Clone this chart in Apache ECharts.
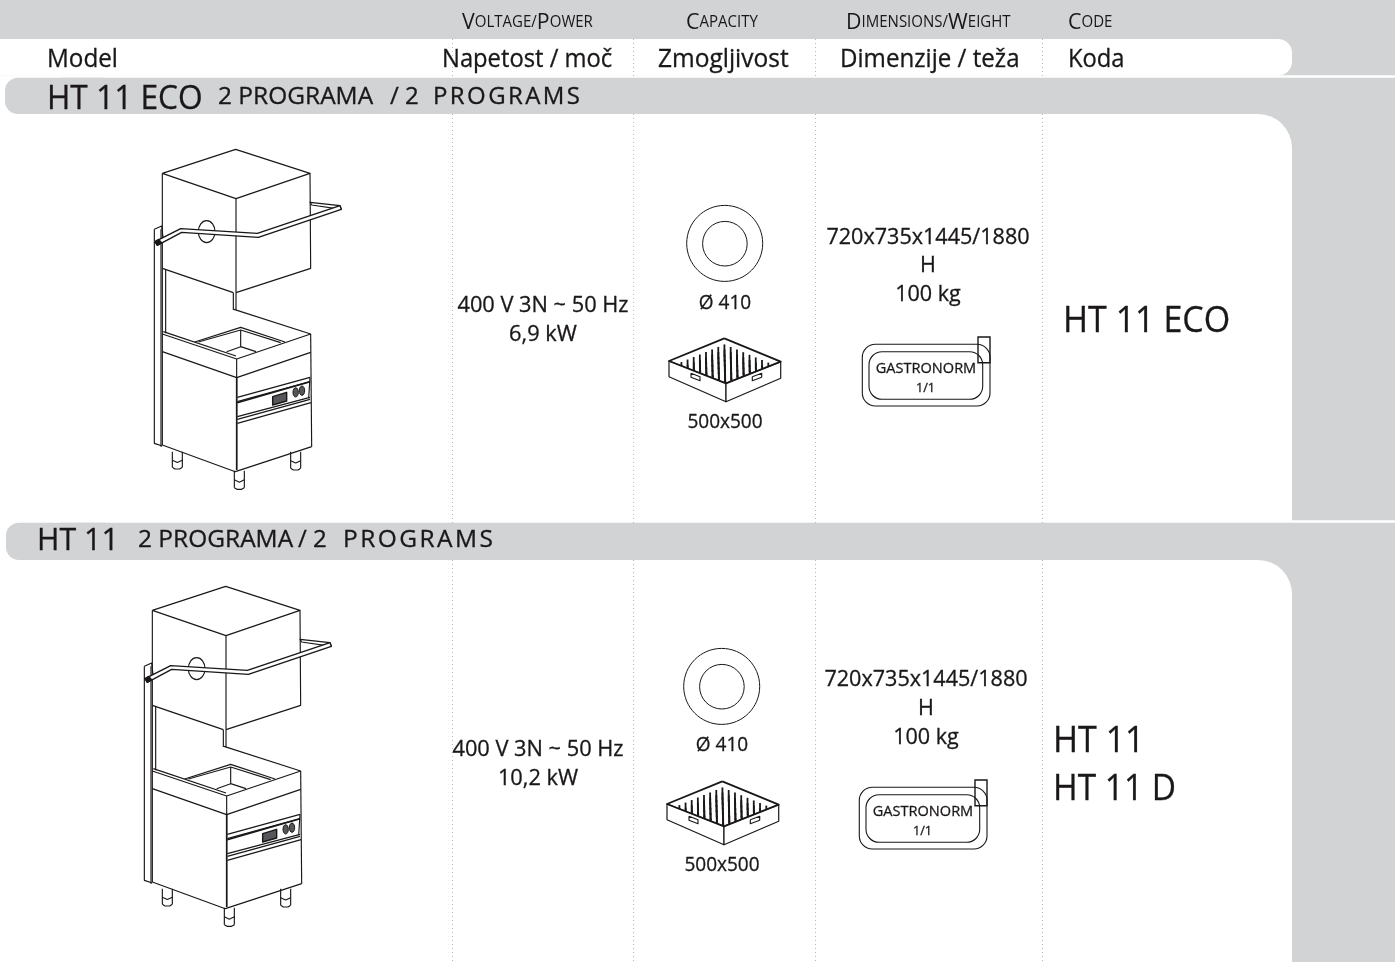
<!DOCTYPE html>
<html lang="en">
<head>
    <meta charset="UTF-8">
    <title>HT 11</title>
    <style>
        html, body { margin: 0; padding: 0; background: #fff; }
        #main { width: 1395px; height: 962px; }
    </style>
    <script src="https://cdn.jsdelivr.net/npm/echarts@6/dist/echarts.min.js"></script>
</head>
<body>
<div id="main"></div>
<script>
    // table content
    const headersEn = ['Voltage/Power', 'Capacity', 'Dimensions/Weight', 'Code'];
    const headersSl = ['Model', 'Napetost / moč', 'Zmogljivost', 'Dimenzije / teža', 'Koda'];
    const modelTitles = ['HT 11 ECO', 'HT 11'];
    const programSl = ['2 PROGRAMA', '2 PROGRAMA'];
    const programEn = ['/ 2', '/ 2'];
    const programWord = 'P\u200AR\u200AO\u200AG\u200AR\u200AA\u200AM\u200AS';
    const voltages = ['400 V 3N ~ 50 Hz', '400 V 3N ~ 50 Hz'];
    const powers = ['6,9 kW', '10,2 kW'];
    const plateSizes = ['Ø 410', 'Ø 410'];
    const rackSizes = ['500x500', '500x500'];
    const dimensions = ['720x735x1445/1880', '720x735x1445/1880'];
    const heights = ['H', 'H'];
    const weights = ['100 kg', '100 kg'];
    const traySizes = ['1/1', '1/1'];
    const trayName = 'GASTRONORM';
    const codes = [['HT 11 ECO'], ['HT 11', 'HT 11 D']];

    const INK = '#1a1718';
    const GREY = '#d1d3d4';
    const FONT = '"Open Sans", sans-serif';
    const els = [];

    function rect(x, y, w, h, fill, r) {
        els.push({type: 'rect', silent: true, shape: {x: x, y: y, width: w, height: h, r: r || 0}, style: {fill: fill}});
    }

    function text(str, x, y, size, align, sx) {
        els.push({
            type: 'text', silent: true, x: x, y: y, scaleX: sx || 0.96,
            style: {
                text: str, fontSize: size, fontFamily: FONT, fill: INK, stroke: INK, lineWidth: 0.3,
                align: align || 'left', verticalAlign: 'middle'
            }
        });
    }

    // small caps: capitals stay big, the rest is drawn as small capitals
    function smallCaps(str, x, y, w) {
        const parts = str.match(/[A-Z\/][a-z]*/g).map(p => {
            let out = '';
            if (p[0] !== '/') out += '{b|' + p[0] + '}'; else out += '{s|/}';
            if (p.length > 1) out += '{s|' + p.slice(1).toUpperCase() + '}';
            return out;
        });
        els.push({
            type: 'text', silent: true, x: x, y: y, scaleX: w,
            style: {
                text: parts.join(''), fill: INK, align: 'left', verticalAlign: 'middle',
                rich: {
                    b: {fontSize: 22, fontFamily: FONT, fill: INK},
                    s: {fontSize: 15.5, fontFamily: FONT, fill: INK}
                }
            }
        });
    }

    function line(points, dx, dy, opts) {
        opts = opts || {};
        els.push({
            type: opts.fill ? 'polygon' : 'polyline', silent: true,
            shape: {points: points.map(p => [p[0] + dx, p[1] + dy])},
            style: {stroke: opts.stroke === undefined ? INK : opts.stroke, lineWidth: opts.width || 1.15, fill: opts.fill || null, lineJoin: 'round'}
        });
    }

    function dottedV(x, y1, y2) {
        els.push({
            type: 'line', silent: true, shape: {x1: x, y1: y1, x2: x, y2: y2},
            style: {stroke: '#b5b7b9', lineWidth: 1, lineDash: [1, 3]}
        });
    }

    function ellipse(cx, cy, rx, ry, opts) {
        opts = opts || {};
        els.push({
            type: 'ellipse', silent: true, shape: {cx: cx, cy: cy, rx: rx, ry: ry},
            style: {stroke: INK, lineWidth: opts.width || 1, fill: opts.fill || null}
        });
    }

    const hoodLines = [
        [[97, 100], [317, 28], [540, 100], [318, 176], [97, 100]],
        [[318, 176], [318, 458]],
        [[540, 100], [542, 385], [318, 458]],
        [[97, 385], [310, 458]]
    ];
    const gapLines = [
        [[97, 100], [97, 582]],
        [[107, 390], [107, 580]],
        [[310, 458], [310, 510]],
        [[318, 458], [318, 510]],
        [[312, 508], [542, 582]]
    ];
    const counterLines = [
        [[97, 582], [320, 657], [542, 582]],
        [[100, 575], [318, 648]],
        [[194, 606], [332, 562], [465, 606]],
        [[205, 606], [332, 570], [452, 608]],
        [[332, 570], [332, 620]],
        [[290, 635], [332, 620], [378, 635]],
        [[97, 582], [97, 915]],
        [[320, 657], [320, 990]],
        [[542, 582], [545, 920]],
        [[97, 635], [320, 713], [542, 637]],
        [[97, 915], [316, 995], [545, 920]],
        [[73, 268], [73, 910], [97, 918]],
        [[93, 268], [93, 920]],
        [[73, 268], [95, 258], [100, 300]],
        [[322, 772], [540, 712]],
        [[322, 785], [540, 725]],
        [[540, 712], [536, 775]],
        [[322, 830], [540, 772]],
        [[322, 838], [540, 778]],
        [[322, 850], [543, 788]]
    ];
    const legsZ = [[127, 157, 935, 982], [482, 512, 935, 985], [313, 343, 992, 1043]];
    const handleZ = [[75, 305], [152, 266], [382, 280], [630, 197], [634, 208], [385, 292], [155, 277], [82, 316]];
    const handleBack = [[540, 187], [630, 197], [634, 208], [545, 195]];
    const displayZ = [[428, 770], [470, 757], [470, 783], [428, 795]];

    function machine(dx, dy) {
        const ox = 130 + dx, oy = 140 + dy;
        const z = pts => pts.map(p => [p[0] / 3, p[1] / 3]);
        hoodLines.forEach(l => line(z(l), ox, oy));
        gapLines.forEach(l => line(z(l), ox, oy));
        counterLines.forEach(l => line(z(l), ox, oy));
        line(z([[322, 788], [540, 725]]), ox, oy, {width: 1.5});
        line(z([[320, 713], [320, 990]]), ox, oy, {width: 1.6});
        // legs
        legsZ.forEach(l => {
            line(z([[l[0], l[2]], [l[0], l[3]]]), ox, oy);
            line(z([[l[1], l[2]], [l[1], l[3]]]), ox, oy);
            line(z([[l[0], (l[2] + l[3]) / 2 + 2], [(l[0] + l[1]) / 2, (l[2] + l[3]) / 2 + 9], [l[1], (l[2] + l[3]) / 2 + 2]]), ox, oy);
            line(z([[l[0], l[3]], [l[0] + 8, l[3] + 5], [l[1] - 8, l[3] + 5], [l[1], l[3]]]), ox, oy);
        });
        // porthole, then the handle over it
        ellipse(ox + 230 / 3, oy + 275 / 3, 25 / 3, 33 / 3, {fill: '#fff', width: 1.2});
        line(z(handleBack), ox, oy, {fill: '#fff'});
        line(z(handleZ), ox, oy, {fill: '#fff', width: 1.4});
        line(z([[75, 305], [82, 316], [95, 308], [86, 298]]), ox, oy, {fill: INK});
        // controls
        line(z(displayZ), ox, oy, {fill: '#55575a', width: 1.4});
        ellipse(ox + 497 / 3, oy + 757 / 3, 8 / 3, 14 / 3, {fill: '#55575a'});
        ellipse(ox + 516 / 3, oy + 752 / 3, 8 / 3, 14 / 3, {fill: '#55575a'});
    }

    function plate(dx, dy) {
        ellipse(724.7 + dx, 243.4 + dy, 38, 38);
        ellipse(724.9 + dx, 243.7 + dy, 22.3, 22.3);
    }

    function rack(dx, dy) {
        const back = [724.3 + dx, 338.3 + dy], left = [669 + dx, 361 + dy];
        const right = [780.7 + dx, 361.7 + dy], front = [726 + dx, 383.3 + dy];
        // inner floor pegs
        const n = 9;
        for (let i = 1; i < n; i++) {
            for (let j = 1; j < n; j++) {
                const x = back[0] + (left[0] - back[0]) * i / n + (right[0] - back[0]) * j / n;
                const y = back[1] + (left[1] - back[1]) * i / n + (right[1] - back[1]) * j / n;
                els.push({
                    type: 'line', silent: true,
                    shape: {x1: x, y1: y + 1, x2: x, y2: y + 13},
                    style: {stroke: INK, lineWidth: 1.8}
                });
            }
        }
        // walls
        line([left, front, [726 + dx, 401.7 + dy], [669 + dx, 376.7 + dy]], 0, 0, {fill: '#fff', width: 1.2});
        line([right, front, [726 + dx, 401.7 + dy], [780.7 + dx, 378.3 + dy]], 0, 0, {fill: '#fff', width: 1.2});
        line([back, left, front, right, back], 0, 0, {width: 1.8});
        line([[691 + dx, 373.3 + dy], [700 + dx, 376.7 + dy], [700 + dx, 380.7 + dy], [691 + dx, 377.3 + dy], [691 + dx, 373.3 + dy]], 0, 0);
        line([[752.3 + dx, 376.7 + dy], [761.7 + dx, 373.3 + dy], [761.7 + dx, 377.3 + dy], [752.3 + dx, 380.7 + dy], [752.3 + dx, 376.7 + dy]], 0, 0);
    }

    function tray(dx, dy, idx) {
        els.push({type: 'rect', silent: true, shape: {x: 862.3 + dx, y: 344.3 + dy, width: 127.7, height: 61.7, r: 13}, style: {stroke: INK, lineWidth: 1.1, fill: null}});
        els.push({type: 'rect', silent: true, shape: {x: 869 + dx, y: 351.7 + dy, width: 113.7, height: 47.6, r: 13}, style: {stroke: INK, lineWidth: 1.1, fill: null}});
        els.push({type: 'rect', silent: true, shape: {x: 978 + dx, y: 337 + dy, width: 12, height: 25.7}, style: {stroke: INK, lineWidth: 1.4, fill: null}});
        text(trayName, 926 + dx, 369 + dy, 15, 'center', 0.97);
        text(traySizes[idx], 925.5 + dx, 388.5 + dy, 13, 'center', 0.97);
    }

    // backgrounds
    rect(0, 0, 1395, 962, GREY);
    rect(-30, 39, 1322, 36.5, '#fff', [0, 14, 14, 0]);
    rect(0, 75.2, 1395, 2.5, '#fff');
    rect(0, 77, 60, 38, '#fff');
    rect(5, 77.7, 100, 36.3, GREY, [13, 0, 0, 13]);
    rect(0, 114, 1292, 408.7, '#fff', [0, 34, 0, 0]);
    rect(1292, 520.2, 103, 2.5, '#fff');
    rect(0, 522, 60, 40, '#fff');
    rect(6, 522.7, 100, 37.3, GREY, [13, 0, 0, 13]);
    rect(0, 560, 1292, 402, '#fff', [0, 34, 0, 0]);

    // column separators
    [452.5, 633.5, 815.5, 1042.5].forEach(x => {
        dottedV(x, 39, 76);
        dottedV(x, 114, 523);
        dottedV(x, 560, 962);
    });

    // header rows
    smallCaps(headersEn[0], 462, 23, 0.97);
    smallCaps(headersEn[1], 686, 23, 0.97);
    smallCaps(headersEn[2], 846, 23, 0.97);
    smallCaps(headersEn[3], 1068, 23, 0.97);
    text(headersSl[0], 47, 60, 25, 'left', 0.97);
    text(headersSl[1], 442, 60, 25, 'left', 0.95);
    text(headersSl[2], 658, 60, 25, 'left', 0.98);
    text(headersSl[3], 840, 60, 25, 'left', 0.965);
    text(headersSl[4], 1068, 60, 25, 'left', 0.95);

    // model bands
    text(modelTitles[0], 47, 100, 33, 'left', 0.96);
    text(programSl[0], 218, 97, 24, 'left', 1.02);
    text(programEn[0], 390, 97, 24, 'left', 1.0);
    text(programWord, 433, 97, 24, 'left', 1.0);
    text(modelTitles[1], 37, 541, 31, 'left', 0.98);
    text(programSl[1], 138, 540, 24, 'left', 1.02);
    text(programEn[1], 298, 540, 24, 'left', 1.0);
    text(programWord, 343, 540, 24, 'left', 1.02);

    // model 1 row
    machine(0, 0);
    plate(0, 0);
    rack(0, 0);
    tray(0, 0, 0);
    text(voltages[0], 543, 306, 22, 'center', 0.99);
    text(powers[0], 543, 335, 22, 'center', 0.99);
    text(plateSizes[0], 725, 303, 20, 'center', 0.95);
    text(rackSizes[0], 725, 422, 20, 'center', 0.95);
    text(dimensions[0], 928, 238, 22, 'center', 0.98);
    text(heights[0], 928, 266, 22, 'center', 0.98);
    text(weights[0], 928, 295, 22, 'center', 0.98);
    text(codes[0][0], 1063, 322, 36, 'left', 0.945);

    // model 2 row
    machine(-10, 437);
    plate(-3, 443);
    rack(-2, 443);
    tray(-3, 443, 1);
    text(voltages[1], 538, 750, 22, 'center', 0.99);
    text(powers[1], 538, 779, 22, 'center', 0.99);
    text(plateSizes[1], 722, 745, 20, 'center', 0.95);
    text(rackSizes[1], 722, 865, 20, 'center', 0.95);
    text(dimensions[1], 926, 680, 22, 'center', 0.98);
    text(heights[1], 926, 709, 22, 'center', 0.98);
    text(weights[1], 926, 738, 22, 'center', 0.98);
    text(codes[1][0], 1053, 742, 36, 'left', 0.945);
    text(codes[1][1], 1053, 790, 36, 'left', 0.93);

    const myChart = echarts.init(document.getElementById('main'));
    myChart.setOption({
        animation: false,
        backgroundColor: '#fff',
        graphic: {elements: els}
    });
</script>
</body>
</html>
